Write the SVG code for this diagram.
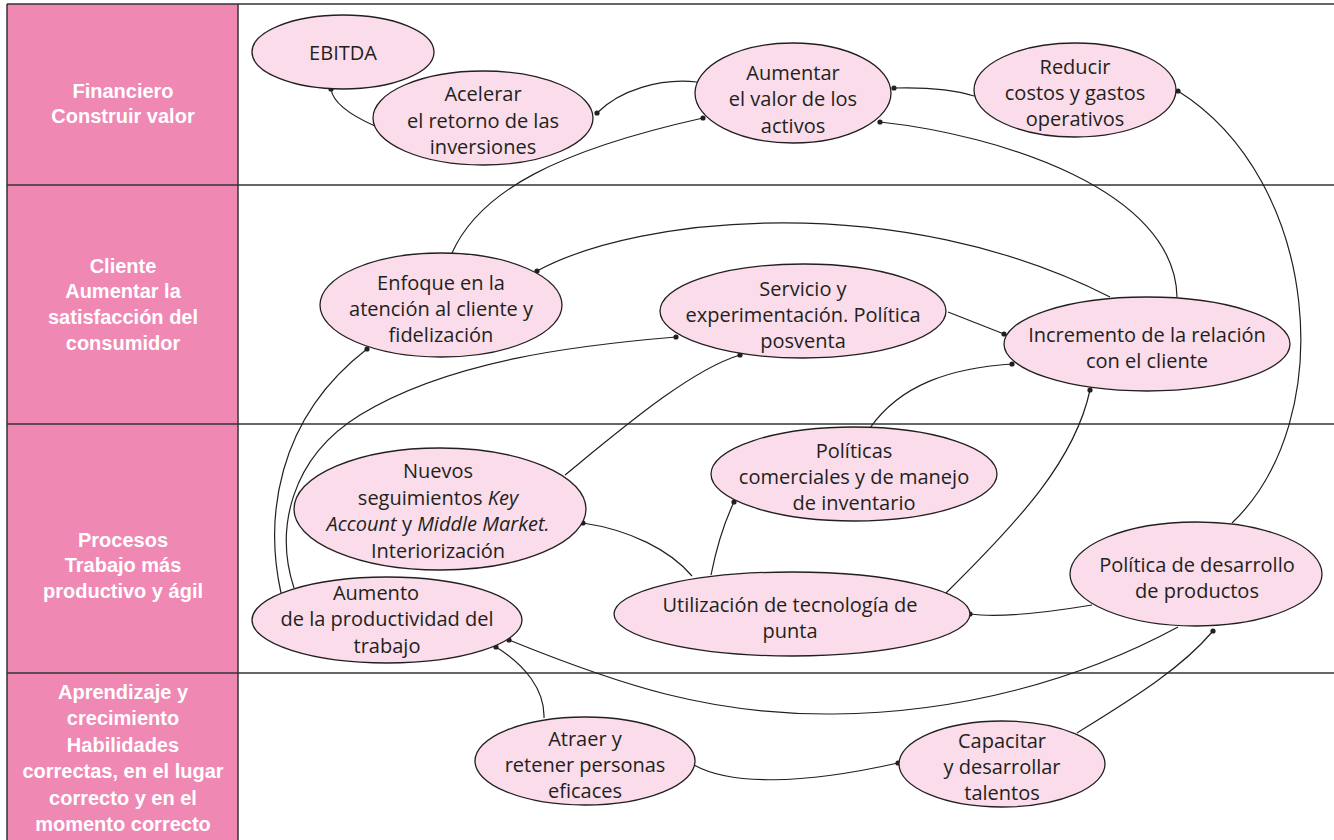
<svg xmlns="http://www.w3.org/2000/svg" width="1334" height="840" viewBox="0 0 1334 840">
  <defs>
    <marker id="dot" viewBox="0 0 6 6" refX="3" refY="3" markerWidth="6" markerHeight="6" markerUnits="userSpaceOnUse">
      <circle cx="3" cy="3" r="2.6" fill="#231f20"/>
    </marker>
    <style>
      .band { fill: #f088b4; }
      .rule { stroke: #333; stroke-width: 1.5; fill: none; }
      .head { font-family: "Liberation Sans", Arial, sans-serif; font-weight: bold; font-size: 20px; fill: #ffffff; text-anchor: middle; dominant-baseline: central; }
      .node ellipse { fill: #fadcea; stroke: #231f20; stroke-width: 1.3; }
      .node text { font-family: "Open Sans", "Liberation Sans", sans-serif; font-size: 20px; fill: #231f20; text-anchor: middle; dominant-baseline: central; }
      .it { font-style: italic; }
      #connectors path { fill: none; stroke: #231f20; stroke-width: 1.2; marker-start: url(#dot); }
    </style>
  </defs>

  <rect width="1334" height="840" fill="#ffffff"/>

  <!-- perspective band on the left -->
  <g id="perspectives">
    <rect class="band" x="7" y="4" width="231" height="836"/>
    <line class="rule" x1="7" y1="4" x2="1334" y2="4"/>
    <line class="rule" x1="7" y1="185" x2="1334" y2="185"/>
    <line class="rule" x1="7" y1="424" x2="1334" y2="424"/>
    <line class="rule" x1="7" y1="673" x2="1334" y2="673"/>
    <line class="rule" x1="238" y1="4" x2="238" y2="840"/>
    <line class="rule" x1="7" y1="4" x2="7" y2="840"/>

    <text class="head" x="123"><tspan x="123" y="91">Financiero</tspan><tspan x="123" y="116">Construir valor</tspan></text>
    <text class="head" x="123"><tspan x="123" y="266">Cliente</tspan><tspan x="123" y="291">Aumentar la</tspan><tspan x="123" y="317">satisfacción del</tspan><tspan x="123" y="343">consumidor</tspan></text>
    <text class="head" x="123"><tspan x="123" y="540">Procesos</tspan><tspan x="123" y="565">Trabajo más</tspan><tspan x="123" y="591">productivo y ágil</tspan></text>
    <text class="head" x="123"><tspan x="123" y="692">Aprendizaje y</tspan><tspan x="123" y="718">crecimiento</tspan><tspan x="123" y="745">Habilidades</tspan><tspan x="123" y="771">correctas, en el lugar</tspan><tspan x="123" y="798">correcto y en el</tspan><tspan x="123" y="824">momento correcto</tspan></text>
  </g>

  <!-- cause-and-effect links; each path starts at its dotted end -->
  <g id="connectors">
    <path d="M331,89 C333,103 350,115 375,126"/>
    <path d="M597,113 C620,90 660,78 697,82"/>
    <path d="M894,88 C930,87 955,90 974,96"/>
    <path d="M703,118 C560,150 480,190 452,253"/>
    <path d="M880,122 C1000,135 1175,190 1177,297"/>
    <path d="M1178,91 C1320,180 1340,420 1232,523"/>
    <path d="M537,271 C640,215 900,190 1110,297"/>
    <path d="M1004,334 L948,312"/>
    <path d="M1012,364 C950,368 900,385 870,428"/>
    <path d="M1090,390 C1075,460 1020,520 946,593"/>
    <path d="M740,355 C690,370 620,430 565,475"/>
    <path d="M676,337 C580,345 450,360 360,415 C290,458 275,530 294,588"/>
    <path d="M367,349 C275,420 265,520 281,593"/>
    <path d="M583,523 C630,530 670,550 692,576"/>
    <path d="M734,502 C723,525 716,550 711,575"/>
    <path d="M970,614 C1000,618 1050,612 1092,605"/>
    <path d="M509,640 C620,685 710,715 833,714 C960,713 1080,680 1178,627"/>
    <path d="M496,647 C525,665 545,690 544,718"/>
    <path d="M898,763 C800,785 730,785 694,765"/>
    <path d="M1213,631 C1180,670 1130,700 1077,733"/>
  </g>

  <g id="ebitda" class="node">
    <ellipse cx="343" cy="52" rx="91" ry="37"/>
    <text x="343" y="52">EBITDA</text>
  </g>
  <g id="acelerar" class="node">
    <ellipse cx="483" cy="118" rx="110" ry="47"/>
    <text><tspan x="483" y="93">Acelerar</tspan><tspan x="483" y="120">el retorno de las</tspan><tspan x="483" y="146">inversiones</tspan></text>
  </g>
  <g id="aumentar-valor" class="node">
    <ellipse cx="793" cy="93" rx="98" ry="50"/>
    <text><tspan x="793" y="72">Aumentar</tspan><tspan x="793" y="98">el valor de los</tspan><tspan x="793" y="125">activos</tspan></text>
  </g>
  <g id="reducir-costos" class="node">
    <ellipse cx="1075" cy="90" rx="101" ry="47"/>
    <text><tspan x="1075" y="66">Reducir</tspan><tspan x="1075" y="92">costos y gastos</tspan><tspan x="1075" y="118">operativos</tspan></text>
  </g>
  <g id="enfoque-cliente" class="node">
    <ellipse cx="441" cy="305" rx="121" ry="52"/>
    <text><tspan x="441" y="282">Enfoque en la</tspan><tspan x="441" y="308">atención al cliente y</tspan><tspan x="441" y="334">fidelización</tspan></text>
  </g>
  <g id="servicio" class="node">
    <ellipse cx="803" cy="311" rx="143" ry="47"/>
    <text><tspan x="803" y="288">Servicio y</tspan><tspan x="803" y="314">experimentación. Política</tspan><tspan x="803" y="340">posventa</tspan></text>
  </g>
  <g id="incremento-relacion" class="node">
    <ellipse cx="1147" cy="344" rx="143" ry="47"/>
    <text><tspan x="1147" y="334">Incremento de la relación</tspan><tspan x="1147" y="360">con el cliente</tspan></text>
  </g>
  <g id="politicas-comerciales" class="node">
    <ellipse cx="854" cy="474" rx="143" ry="47"/>
    <text><tspan x="854" y="450">Políticas</tspan><tspan x="854" y="476">comerciales y de manejo</tspan><tspan x="854" y="502">de inventario</tspan></text>
  </g>
  <g id="nuevos-seguimientos" class="node">
    <ellipse cx="440" cy="509" rx="146" ry="61"/>
    <text><tspan x="438" y="470">Nuevos</tspan><tspan x="438" y="497">seguimientos <tspan class="it">Key</tspan></tspan><tspan x="438" y="523"><tspan class="it">Account</tspan> y <tspan class="it">Middle Market.</tspan></tspan><tspan x="438" y="550">Interiorización</tspan></text>
  </g>
  <g id="aumento-productividad" class="node">
    <ellipse cx="387" cy="620" rx="135" ry="43"/>
    <text><tspan x="376" y="592">Aumento</tspan><tspan x="387" y="618">de la productividad del</tspan><tspan x="387" y="645">trabajo</tspan></text>
  </g>
  <g id="tecnologia" class="node">
    <ellipse cx="792" cy="614" rx="178" ry="42"/>
    <text><tspan x="790" y="604">Utilización de tecnología de</tspan><tspan x="790" y="630">punta</tspan></text>
  </g>
  <g id="desarrollo-productos" class="node">
    <ellipse cx="1196" cy="574" rx="126" ry="52"/>
    <text><tspan x="1197" y="564">Política de desarrollo</tspan><tspan x="1197" y="590">de productos</tspan></text>
  </g>
  <g id="atraer-personas" class="node">
    <ellipse cx="585" cy="761" rx="110" ry="44"/>
    <text><tspan x="585" y="738">Atraer y</tspan><tspan x="585" y="764">retener personas</tspan><tspan x="585" y="790">eficaces</tspan></text>
  </g>
  <g id="capacitar-talentos" class="node">
    <ellipse cx="1002" cy="764" rx="103" ry="43"/>
    <text><tspan x="1002" y="740">Capacitar</tspan><tspan x="1002" y="766">y desarrollar</tspan><tspan x="1002" y="792">talentos</tspan></text>
  </g>
</svg>
